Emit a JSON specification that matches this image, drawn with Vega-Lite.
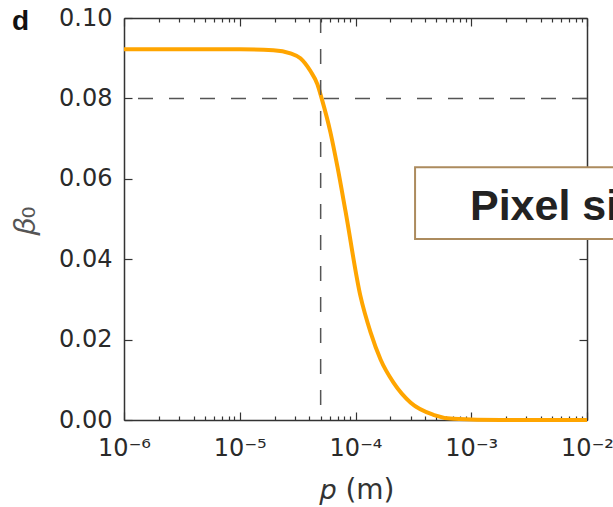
{
  "$schema": "https://vega.github.io/schema/vega-lite/v6.json",
  "width": 463,
  "height": 402,
  "autosize": "none",
  "padding": {"left": 124, "top": 18, "right": 26, "bottom": 87},
  "background": "white",
  "view": {"stroke": null},
  "config": {
    "axis": {
      "domainColor": "#333",
      "domainWidth": 1.5,
      "tickColor": "#333",
      "tickWidth": 1.2,
      "labelFont": "DejaVu Sans",
      "labelFontSize": 24,
      "labelColor": "#2a2a2a",
      "grid": false,
      "titleFont": "DejaVu Sans",
      "titleFontWeight": "normal",
      "titleColor": "#333",
      "titleFontSize": 28
    }
  },
  "title": {
    "text": "d",
    "anchor": "start",
    "frame": "group",
    "dx": -112,
    "dy": 52,
    "offset": 0,
    "baseline": "alphabetic",
    "font": "Liberation Sans",
    "fontSize": 28,
    "fontWeight": "bold",
    "color": "#111"
  },
  "datasets": {
    "curve": [
      {"p": 1e-6, "beta": 0.0922},
      {"p": 3e-6, "beta": 0.0922},
      {"p": 1e-5, "beta": 0.0922},
      {"p": 1.95e-5, "beta": 0.0920},
      {"p": 2.74e-5, "beta": 0.0912},
      {"p": 3.34e-5, "beta": 0.0900},
      {"p": 4.08e-5, "beta": 0.0868},
      {"p": 4.69e-5, "beta": 0.0835},
      {"p": 5.1e-5, "beta": 0.0800},
      {"p": 6.08e-5, "beta": 0.0715},
      {"p": 6.98e-5, "beta": 0.0630},
      {"p": 8.19e-5, "beta": 0.0520},
      {"p": 1.1e-4, "beta": 0.0310},
      {"p": 1.35e-4, "beta": 0.0218},
      {"p": 1.65e-4, "beta": 0.0150},
      {"p": 2.13e-4, "beta": 0.0093},
      {"p": 3.0e-4, "beta": 0.0043},
      {"p": 4.7e-4, "beta": 0.0013},
      {"p": 7.0e-4, "beta": 0.0003},
      {"p": 1.8e-3, "beta": 0.0},
      {"p": 1e-2, "beta": 0.0}
    ],
    "refs": [{"p": 5e-5, "beta": 0.08}],
    "box": [{"p1": 3.27e-4, "p2": 0.05, "b1": 0.0450, "b2": 0.0629, "tx": 9.75e-4, "ty": 0.0497, "label": "Pixel size"}]
  },
  "layer": [
    {
      "data": {"name": "curve"},
      "mark": {"type": "point", "opacity": 0},
      "encoding": {
        "x": {"field": "p", "type": "quantitative", "scale": {"type": "log", "domain": [1e-6, 1e-2]},
          "axis": {"orient": "bottom", "values": [2e-6,3e-6,4e-6,5e-6,6e-6,7e-6,8e-6,9e-6,2e-5,3e-5,4e-5,5e-5,6e-5,7e-5,8e-5,9e-5,2e-4,3e-4,4e-4,5e-4,6e-4,7e-4,8e-4,9e-4,2e-3,3e-3,4e-3,5e-3,6e-3,7e-3,8e-3,9e-3], "labels": false, "tickSize": -4, "domain": false, "title": null}},
        "y": {"field": "beta", "type": "quantitative", "scale": {"domain": [0, 0.1]},
          "axis": {"orient": "right", "values": [0, 0.02, 0.04, 0.06, 0.08, 0.1], "labels": false, "tickSize": -8, "title": null}}
      }
    },
    {
      "data": {"name": "curve"},
      "mark": {"type": "point", "opacity": 0},
      "encoding": {
        "x": {"field": "p", "type": "quantitative", "scale": {"type": "log", "domain": [1e-6, 1e-2]},
          "axis": {"orient": "top", "values": [1e-6, 1e-5, 1e-4, 1e-3, 1e-2], "labels": false, "tickSize": -8, "title": null}},
        "y": {"field": "beta", "type": "quantitative", "scale": {"domain": [0, 0.1]}, "axis": null}
      }
    },
    {
      "data": {"name": "curve"},
      "mark": {"type": "point", "opacity": 0},
      "encoding": {
        "x": {"field": "p", "type": "quantitative", "scale": {"type": "log", "domain": [1e-6, 1e-2]},
          "axis": {"orient": "top", "values": [2e-6,3e-6,4e-6,5e-6,6e-6,7e-6,8e-6,9e-6,2e-5,3e-5,4e-5,5e-5,6e-5,7e-5,8e-5,9e-5,2e-4,3e-4,4e-4,5e-4,6e-4,7e-4,8e-4,9e-4,2e-3,3e-3,4e-3,5e-3,6e-3,7e-3,8e-3,9e-3], "labels": false, "tickSize": -4, "domain": false, "title": null}},
        "y": {"field": "beta", "type": "quantitative", "scale": {"domain": [0, 0.1]}, "axis": null}
      }
    },
    {
      "data": {"name": "curve"},
      "mark": {"type": "line", "color": "#FFA500", "strokeWidth": 4, "interpolate": "monotone"},
      "encoding": {
        "x": {"field": "p", "type": "quantitative", "scale": {"type": "log", "domain": [1e-6, 1e-2]},
          "axis": {"orient": "bottom", "values": [1e-6, 1e-5, 1e-4, 1e-3, 1e-2], "tickSize": -8, "labelPadding": 24, "labelOverlap": false, "labelFlush": false,
            "labelExpr": "'10' + ['⁻⁶','⁻⁵','⁻⁴','⁻³','⁻²'][round(log(datum.value)/LN10)+6]",
            "title": "𝑝 (m)", "titleX": 233, "titleY": 70, "titleBaseline": "middle"}},
        "y": {"field": "beta", "type": "quantitative", "scale": {"domain": [0, 0.1]},
          "axis": {"orient": "left", "values": [0, 0.02, 0.04, 0.06, 0.08, 0.1], "format": ".2f", "tickSize": -8, "labelPadding": 20,
            "title": "𝛽₀", "titleX": -99, "titleY": 202, "titleBaseline": "middle", "titleAlign": "center", "titleFontSize": 30, "titleColor": "#555"}}
      }
    },
    {
      "data": {"name": "refs"},
      "mark": {"type": "rule", "color": "#555", "strokeWidth": 1.5, "strokeDash": [15, 16]},
      "encoding": {
        "x": {"field": "p", "type": "quantitative", "scale": {"type": "log", "domain": [1e-6, 1e-2]}, "axis": null}
      }
    },
    {
      "data": {"name": "refs"},
      "mark": {"type": "rule", "color": "#555", "strokeWidth": 1.5, "strokeDash": [15, 16]},
      "encoding": {
        "y": {"field": "beta", "type": "quantitative", "scale": {"domain": [0, 0.1]}, "axis": null}
      }
    },
    {
      "data": {"name": "box"},
      "mark": {"type": "rect", "fill": "white", "stroke": "#ac8b5e", "strokeWidth": 2, "clip": false},
      "encoding": {
        "x": {"field": "p1", "type": "quantitative", "scale": {"type": "log", "domain": [1e-6, 1e-2]}, "axis": null},
        "x2": {"field": "p2"},
        "y": {"field": "b1", "type": "quantitative", "scale": {"domain": [0, 0.1]}, "axis": null},
        "y2": {"field": "b2"}
      }
    },
    {
      "data": {"name": "box"},
      "mark": {"type": "text", "align": "left", "baseline": "alphabetic", "font": "Liberation Sans", "fontSize": 43, "fontWeight": "bold", "color": "#222", "clip": false},
      "encoding": {
        "x": {"field": "tx", "type": "quantitative", "scale": {"type": "log", "domain": [1e-6, 1e-2]}, "axis": null},
        "y": {"field": "ty", "type": "quantitative", "scale": {"domain": [0, 0.1]}, "axis": null},
        "text": {"field": "label"}
      }
    }
  ],
  "resolve": {"axis": {"x": "independent", "y": "independent"}}
}
